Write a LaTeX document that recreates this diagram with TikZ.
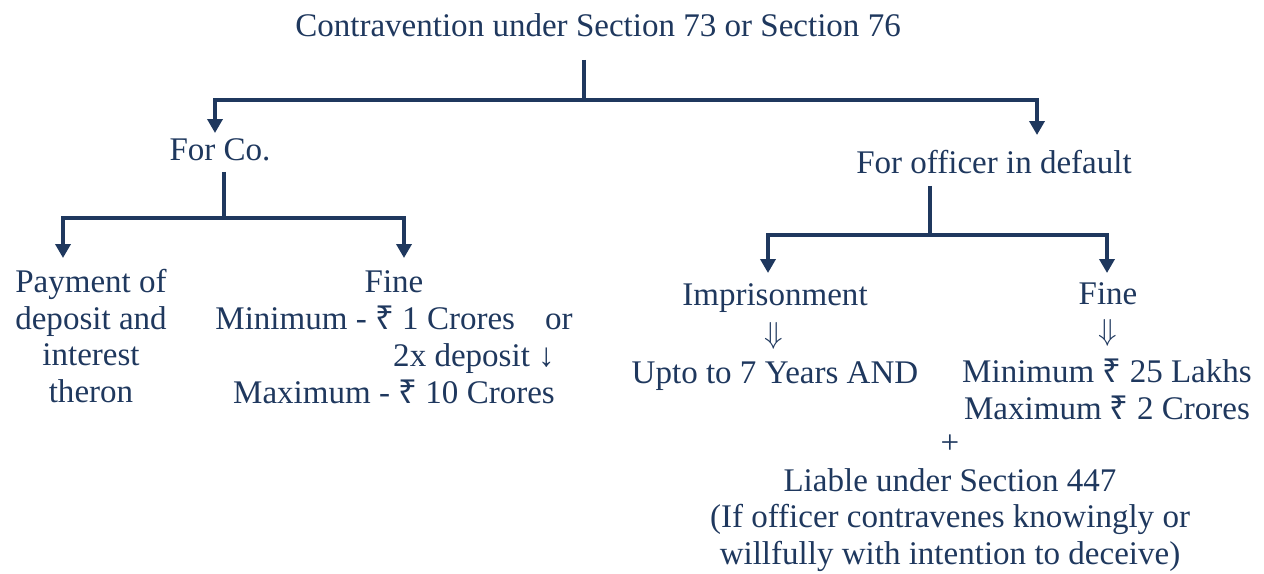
\documentclass[tikz,border=0pt]{standalone}
\usepackage{fontspec}
\setmainfont{Liberation Serif}
\newfontfamily\rupeefont{Noto Sans}
\newcommand\rs{{\rupeefont ₹}}
\usetikzlibrary{arrows.meta}
\definecolor{navy}{RGB}{31,56,94}

\begin{document}
\begin{tikzpicture}[x=0.02cm,y=-0.02cm,
  txt/.style={text=navy,align=center,inner sep=0pt,
              font=\fontsize{18.8}{21}\selectfont},
  dn/.style={txt,text depth=0pt,text height=8pt},
  link/.style={draw=navy,line width=2.8pt},
  arr/.style={link,-{Triangle[width=0.3cm,length=0.28cm]}}]
\useasboundingbox (0,0) rectangle (1264,574);
% top level
\node[txt] (title) at (598,25) {Contravention under Section 73 or Section 76};
\node[txt] (co) at (220,150) {For Co.};
\node[txt] (off) at (994,162) {For officer in default};
% company branch
\node[txt] (pay) at (91,336) {Payment of\\deposit and\\interest\\theron};
\node[txt] (cofine) at (394,337) {Fine\\Minimum - \rs{} 1 Crores\hspace{0.6cm}or\\
  \hspace*{3.2cm}2x deposit ↓\\Maximum - \rs{} 10 Crores};
% officer branch
\node[txt] (jail) at (775,298) {Imprisonment};
\node[dn] (jaildn) at (774,336) {$\Downarrow$};
\node[txt] (years) at (775,376) {Upto to 7 Years AND};
\node[txt] (offfine) at (1108,294) {Fine};
\node[dn] (finedn) at (1108,333) {$\Downarrow$};
\node[txt] (amount) at (1107,389) {Minimum \rs{} 25 Lakhs\\Maximum \rs{} 2 Crores};
\node[txt] (plus) at (950,444) {+};
\node[txt] (liable) at (950,520) {Liable under Section 447\\(If officer contravenes knowingly or\\
  willfully with intention to deceive)};
% junctions
\coordinate (t0) at (584,60);
\coordinate (j0) at (584,100);
\coordinate (a0) at (215,133);
\coordinate (a1) at (1037,135);
\coordinate (c0) at (224,172);
\coordinate (j1) at (224,218);
\coordinate (a2) at (63,258);
\coordinate (a3) at (404,258);
\coordinate (o0) at (930,186);
\coordinate (j2) at (930,235);
\coordinate (a4) at (768,273);
\coordinate (a5) at (1107,273);
\draw[link] (t0) -- (j0);
\draw[arr] (j0) -| (a0);
\draw[arr] (j0) -| (a1);
\draw[link] (c0) -- (j1);
\draw[arr] (j1) -| (a2);
\draw[arr] (j1) -| (a3);
\draw[link] (o0) -- (j2);
\draw[arr] (j2) -| (a4);
\draw[arr] (j2) -| (a5);
\end{tikzpicture}
\end{document}
